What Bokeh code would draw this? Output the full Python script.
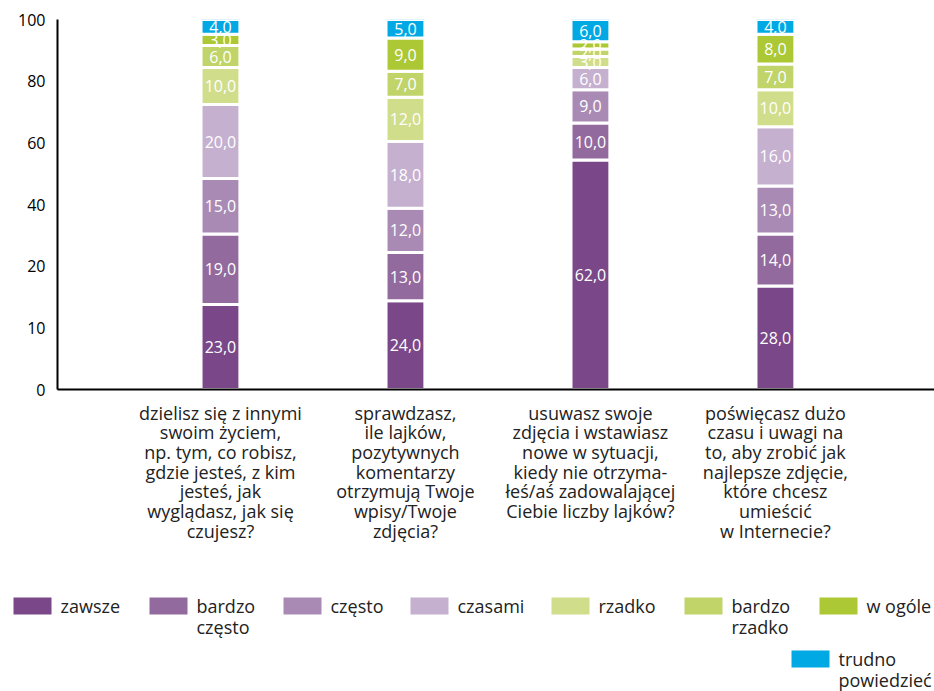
from bokeh.plotting import figure
from bokeh.models import Range1d, FixedTicker, ColumnDataSource
from bokeh.core.properties import value
from bokeh.embed import file_html
from bokeh.resources import INLINE

# ---------------- data ----------------
categories = [
    "dzielisz się z innymi\nswoim życiem,\nnp. tym, co robisz,\ngdzie jesteś, z kim\njesteś, jak\nwyglądasz, jak się\nczujesz?",
    "sprawdzasz,\nile lajków,\npozytywnych\nkomentarzy\notrzymują Twoje\nwpisy/Twoje\nzdjęcia?",
    "usuwasz swoje\nzdjęcia i wstawiasz\nnowe w sytuacji,\nkiedy nie otrzyma-\nłeś/aś zadowalającej\nCiebie liczby lajków?",
    "poświęcasz dużo\nczasu i uwagi na\nto, aby zrobić jak\nnajlepsze zdjęcie,\nktóre chcesz\numieścić\nw Internecie?",
]
series_names = ["zawsze", "bardzo\nczęsto", "często", "czasami", "rzadko",
                "bardzo\nrzadko", "w ogóle", "trudno\npowiedzieć"]
zawsze = [23, 24, 62, 28]
bardzo_czesto = [19, 13, 10, 14]
czesto = [15, 12, 9, 13]
czasami = [20, 18, 6, 16]
rzadko = [10, 12, 3, 10]
bardzo_rzadko = [6, 7, 2, 7]
w_ogole = [3, 9, 2, 8]
trudno_powiedziec = [4, 5, 6, 4]
y_tick_labels = ["0", "10", "20", "40", "60", "80", "100"]

series_values = [zawsze, bardzo_czesto, czesto, czasami, rzadko,
                 bardzo_rzadko, w_ogole, trudno_powiedziec]
colors = ["#7a4788", "#926a9e", "#a98ab4", "#c5b0d0", "#d0dd8b",
          "#c0d46a", "#acc835", "#00a9e4"]

FONT = "Open Sans"
W = 934
H_CHART = 585
H_LEG = 106

# ---------------- chart ----------------
xs = list(range(1, len(categories) + 1))
keys = [f"s{i}" for i in range(len(series_values))]
data = {"x": xs}
for k, v in zip(keys, series_values):
    data[k] = v
source = ColumnDataSource(data)

p = figure(width=W, height=H_CHART, output_backend="svg", toolbar_location=None,
           x_range=Range1d(0.119, 4.86), y_range=Range1d(0, 100),
           min_border_left=57, min_border_right=0, min_border_top=19,
           min_border_bottom=H_CHART - 19 - 370)
p.outline_line_color = None
p.grid.visible = False

p.vbar_stack(keys, x="x", width=0.21, color=colors, line_color="white",
             line_width=3, source=source)

# value labels
lx, ly, lt = [], [], []
for i, x in enumerate(xs):
    base = 0
    for vals in series_values:
        v = vals[i]
        lx.append(x)
        ly.append(base + v / 2)
        lt.append(f"{v:.1f}".replace(".", ","))
        base += v
p.text(x=lx, y=ly, text=lt, text_color="white", text_font=value(FONT),
       text_font_size="16px", text_align="center", text_baseline="middle")

# axes
p.xaxis.ticker = FixedTicker(ticks=xs)
p.xaxis.major_label_overrides = {x: c for x, c in zip(xs, categories)}
p.xaxis.major_tick_line_color = None
p.xaxis.minor_tick_line_color = None
p.xaxis.axis_line_color = "black"
p.xaxis.axis_line_width = 2
p.xaxis.major_label_standoff = 5
p.xaxis.major_label_text_font = FONT
p.xaxis.major_label_text_font_size = "18px"
p.xaxis.major_label_text_color = "#222222"
p.xaxis.major_label_text_line_height = 0.82

y_ticks = [i * 100 / (len(y_tick_labels) - 1) for i in range(len(y_tick_labels))]
p.yaxis.ticker = FixedTicker(ticks=y_ticks)
p.yaxis.major_label_overrides = {t: l for t, l in zip(y_ticks, y_tick_labels)}
p.yaxis.major_tick_line_color = None
p.yaxis.minor_tick_line_color = None
p.yaxis.axis_line_color = "black"
p.yaxis.axis_line_width = 2
p.yaxis.major_label_standoff = 6
p.yaxis.major_label_text_font = FONT
p.yaxis.major_label_text_font_size = "16px"
p.yaxis.major_label_text_color = "black"

# ---------------- legend ----------------
lg = figure(width=W, height=H_LEG, output_backend="svg", toolbar_location=None,
            x_range=Range1d(0, W), y_range=Range1d(H_LEG, 0),
            min_border=0)
lg.axis.visible = False
lg.grid.visible = False
lg.outline_line_color = None

sw_left = [13, 149, 283, 410, 551, 684, 819, 791]
sw_top = [12, 12, 12, 12, 12, 12, 12, 65]
sw_w, sw_h = 38, 17
lg.rect(x=[l + sw_w / 2 for l in sw_left], y=[t + sw_h / 2 for t in sw_top],
        width=sw_w, height=sw_h, color=colors, line_color=None)
lg.text(x=[l + sw_w + 9 for l in sw_left], y=[t - 3.5 for t in sw_top],
        text=series_names, text_color="#222222", text_font=value(FONT),
        text_font_size="18px", text_align="left", text_baseline="top",
        text_line_height=0.86)

open("out.html", "w").write(file_html([p, lg], INLINE))
